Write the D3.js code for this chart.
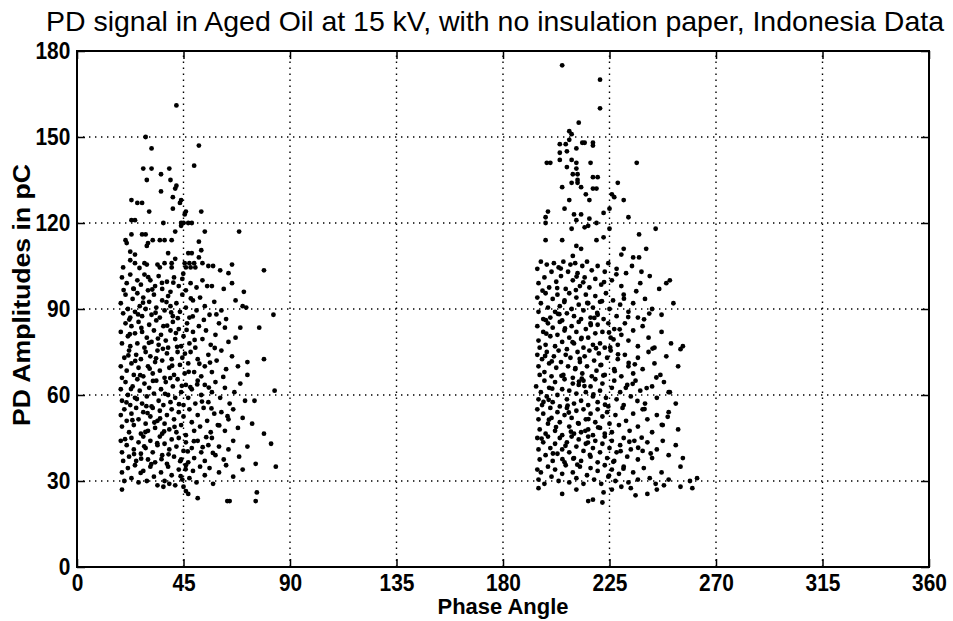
<!DOCTYPE html>
<html>
<head>
<meta charset="utf-8">
<script src="https://cdn.jsdelivr.net/npm/d3@7"></script>
<style>
body{margin:0;background:#fff}
svg{display:block}
.tick text{font-family:Arial,"Liberation Sans",sans-serif;font-weight:bold;font-size:22px;fill:#000}
.label{font-family:Arial,"Liberation Sans",sans-serif;font-weight:bold;font-size:22px}
.ylabel{font-family:Arial,"Liberation Sans",sans-serif;font-weight:bold;font-size:24px}
.title{font-family:Arial,"Liberation Sans",sans-serif;font-size:28px}
</style>
</head>
<body>
<svg id="chart"></svg>
<script>
var chartTitle = "PD signal in Aged Oil at 15 kV, with no insulation paper, Indonesia Data"
var xLabel = "Phase Angle"
var yLabel = "PD Amplitudes in pC"
var xTicks = [0,45,90,135,180,225,270,315,360]
var yTicks = [0,30,60,90,120,150,180]

// positive half cycle cluster, [phase, amplitude]
var posTop = [[42,161],[29,150],[31.5,146],[51.5,147],[28,139],[31.5,139],[39,139],[49.5,140],[35.5,137],[29.5,135],[39.5,135],[42,133],[41.5,132],[35.5,131],[40.5,129],[23,128],[25.5,127],[27.5,127],[44,128],[43.5,127],[40.5,125],[30.5,124],[52.5,124],[46,124],[45.5,123],[23,121],[24.5,121],[36.5,120],[44,120],[45,120],[47,120],[48.5,120],[44,119],[68.5,117],[54,117],[20.5,114],[21,113],[23,116],[27.5,116],[29,116],[32,114],[35,114],[37,114],[40,114],[41.5,117],[29.5,112],[30,113],[51.5,113.5],[38.5,109.5],[52.5,110.5],[22.5,110],[24.5,109],[47,109.5],[48.5,109.5],[19.5,104.5],[22.5,107],[24.5,106],[28.5,106],[29.5,105.5],[34,105.5],[35,104.5],[37,106],[40,104.5],[40,106],[41.5,107.5],[45.5,106],[47.5,106],[49.5,106],[46,104.5],[48,104.5],[50,104.5],[51.5,108],[53,106],[55.5,105],[57.5,105],[60.5,103.5],[64,102.5],[65.5,105.5],[79,103.5],[65.5,99],[55,98]]

var posBody = [[19,101],[21,99],[22.5,102],[24,97],[25.5,100],[27,98.5],[28.5,102],[30,96.5],[31,100],[33,98],[34.5,101.5],[36,97],[38,99.5],[39.5,96],[41,101],[43,98],[44.5,100.5],[46,96.5],[48,99],[50.5,97.5],[53,100],[57,98],[62,97],[70.5,96],
[18.5,92],[19.5,88.5],[20.5,95],[21.5,90],[22.5,87],[23.5,93.5],[24.5,89],[25.5,95.5],[26.5,91],[27.5,87.5],[28,94],[29,90],[30.5,92.5],[31.5,88],[32.5,95],[33.5,90.5],[35,87],[36,93],[37,89.5],[38.5,94.5],[39.5,91],[40.5,87.5],[42,92],[43.5,89],[44.5,95],[46,90.5],[47.5,87],[49,93],[50.5,89.5],[52,94],[54,91],[56,88],[58,92.5],[61,89.5],[63,86.5],[70,91],[71.5,90.5],[83,88],[67,93],
[18.5,82],[19,78],[20.5,85],[21.5,80.5],[22.5,77],[23,84],[24.5,81.5],[25.5,78],[26,85.5],[27.5,82],[28.5,76.5],[29.5,80],[30.5,84.5],[31.5,78.5],[32.5,82.5],[33.5,86],[34.5,77.5],[35.5,81],[36.5,84],[37.5,79],[38.5,76.5],[39.5,82.5],[40.5,85.5],[41.5,79.5],[43,83],[44,77],[45,80.5],[46.5,85],[47.5,78],[49,82],[50,76.5],[51.5,84],[53,79.5],[54.5,82.5],[56.5,77.5],[58.5,81],[60,85],[62.5,83.5],[64,78.5],[67,80],[69,83.5],[77,83.5],
[18.5,70],[19,66],[20,73],[21,68.5],[22,75.5],[23,71],[24,67],[25,74],[26,69.5],[27,72.5],[28,66.5],[29,75],[30,70],[31,73.5],[32,67.5],[33,71.5],[34,75.5],[35,68.5],[36,72],[37,66],[38,74.5],[39,69.5],[40,72.5],[41,67],[42.5,75],[43.5,70.5],[44.5,73],[45.5,67.5],[47,71],[48,75],[49.5,68],[51,72.5],[52.5,66.5],[54,70],[55.5,74],[57,68],[59,72],[61,75.5],[63,69],[65.5,73.5],[68,70],[72,71.5],[72,67],[79,72.5],
[18.5,62],[19,58],[20.5,64.5],[21.5,60],[22.5,56.5],[23.5,63],[24.5,59],[25.5,65.5],[26.5,61.5],[27.5,57],[28.5,64],[29.5,59.5],[30.5,62.5],[31.5,56],[32.5,60.5],[33.5,65],[34.5,58],[35.5,62],[36.5,56.5],[37.5,64.5],[38.5,60],[39.5,57.5],[40.5,63],[41.5,59],[42.5,65.5],[44,61],[45,56.5],[46,63.5],[47,59],[48.5,62],[50,57],[51,65],[52.5,60],[54,63.5],[55.5,57.5],[57,61],[58.5,64.5],[60.5,59],[62.5,62.5],[64.5,57],[66.5,61],[69,64],[71,58],[75,58],[83.5,61.5],
[18.5,53],[19,49],[20,55],[21,51],[22,47],[23,53.5],[24,49.5],[25,55.5],[26,51.5],[27,46.5],[28,54],[29,50],[30,47.5],[31,52.5],[32,55.5],[33,48.5],[34,51],[35,54.5],[36,46.5],[37,50],[38,53],[39,48],[40,55],[41,51.5],[42,47],[43,54],[44,49.5],[45,52.5],[46,46],[47.5,55],[48.5,50.5],[49.5,47.5],[51,53],[52,49],[53.5,55.5],[55,51],[56.5,47],[58,53.5],[59.5,49.5],[61,54],[62.5,47.5],[64,51.5],[66,55],[68,48.5],[70,52],[74,50],[79,46.5],
[18.5,44],[19,40],[19.5,37],[21,42.5],[22,38.5],[23,45],[24,41],[25,37],[26,43.5],[27,39.5],[28,45.5],[29,41.5],[30,37.5],[31,44],[32,40],[33,36.5],[34,42.5],[35,45.5],[36,39],[37,43],[38,36],[39,41],[40,44.5],[41,38.5],[42,42],[43,45],[44,37.5],[45,40.5],[46,43.5],[47,36.5],[48.5,41.5],[49.5,38],[51,44],[52.5,40],[54,37],[55.5,42.5],[57,45],[58.5,39],[60,42],[62,37.5],[64,41],[66,44],[68.5,38.5],[72,42],[82,43],
[19,33],[19,27],[20,30],[21.5,34.5],[23,31],[24.5,35.5],[26,29.5],[26.9,32.8],[28,33.5],[29.5,30],[31,35],[32.5,31.5],[34,28.5],[35.5,33],[37,30],[38.5,35],[40,32],[41.5,28.5],[43,34],[44.5,30.5],[46,35.5],[47.5,31],[49,33.5],[50.5,29.5],[52,35],[54,32],[56,34.5],[57.5,29],[60,33],[63,35.5],[66,31.5],[70,34],[75.5,36],[84,35],[36.5,28],[39,29],[45,28],[46,26.5],[47,25.5],[51,24],[63.5,23],[64.5,23],[76,26],[75.5,23]]

var posFill = [[33.2,88.7],[21.7,73.8],[44.3,63.2],[28.9,47.1],[37.8,92.4],[25.3,58.6],[49.7,79.2],[31.4,35.9],[42.6,86.8],[56.2,71.3],[23.8,97.1],[35.1,51.8],[46.8,40.3],[27.2,83.4],[39.4,65.9],[52.8,57.7],[20.3,44.6],[30.7,69.2],[43.8,31.7],[58.9,88.1],[26.4,104.3],[36.3,76.1],[48.1,93.7],[22.8,62.1],[33.9,43.2],[54.6,45.3],[40.7,99.2],[29.3,56.1],[45.6,74.4],[61.8,66.3],[24.1,39.4],[38.1,84.2],[50.8,63.7],[32.1,64.9],[19.7,96.6],[27.9,92.2],[43.1,56.8],[57.4,39.8],[35.7,37.6],[47.2,68.1],[22.3,81.2],[30.1,101.1],[41.2,48.9],[53.6,86.2],[26.7,66.9],[39.8,88.8],[60.1,49.4],[34.2,79.7],[45.9,34.1],[28.4,42.1],[51.7,70.9],[23.4,51.2],[37.2,60.4],[48.9,87.4],[31.8,96.8],[42.3,76.8],[55.7,62.6],[25.8,88.1],[36.8,47.3],[44.9,102.3],[20.9,57.4],[49.4,43.9],[33.4,72.8],[58.2,76.4],[29.8,53.7],[40.2,70.2],[63.6,52.6],[24.6,71.9],[46.3,82.7],[38.7,39.3],[53.1,41.8],[27.1,37.8],[35.9,99.1],[41.8,81.6],[30.4,78.2],[47.9,62.7],[22.1,86.3],[56.8,55.3],[43.6,36.9],[32.7,50.4]]

// negative half cycle cluster, [phase, amplitude]
var negTop = [[205,175],[221,170],[221,160],[212,155],[208,152],[209,151],[204,147.5],[206.5,147.5],[208,149],[213.5,148],[214.5,148],[218,148],[218,147],[204,144.5],[207,145],[211,146],[204,142],[198.5,141],[200,141],[209,142],[211,141],[207,139.5],[217,141],[236.5,141],[211,139],[209.5,137],[211.5,137],[218,136],[220,136],[209,134],[211.5,135],[211.5,134],[213,132.5],[205,132.5],[218,132],[219.5,132],[228.5,134],[215,130],[226,130],[227,129],[231,128],[208,128],[216.5,128],[206,125],[199,124],[222.5,123.5],[225,125],[210,123],[213,123],[198,122],[198,120],[216.5,121.5],[219.5,120],[233,122],[211,121],[214.5,118.5],[216,119],[209,118],[225,118],[244.5,118],[237.5,116],[222.5,115],[198,114],[205,114],[219.5,114],[211,112],[213,111],[231,111],[230,109],[240.5,111],[235,108],[237.5,108],[209.5,108.5]]

var negBody = [[194.5,104],[195,99],[196,106.5],[197.5,101],[198.5,105.5],[199.5,97.5],[200.5,103],[201.5,106],[202.5,99.5],[203.5,104.5],[204.5,101.5],[205.5,106.5],[206.5,97],[207.5,103],[208.5,105.5],[209.5,100],[210.5,106],[211.5,102.5],[212.5,98],[213.5,105],[214.5,101],[215.5,106.5],[216.5,97.5],[217.5,103.5],[219,100.5],[220,105],[221.5,98.5],[223,103],[224.5,106],[226,100],[228,104],[230,98],[232,102.5],[234.5,105],[238.5,103],[238,99],[242,101.5],[246,97],[250.5,100],
[194.5,94],[195,89],[196,92],[197,86.5],[198,95.5],[199,90.5],[200,87],[201,93.5],[202,89],[203,95],[204,91],[205,86],[206,93],[207,88.5],[208,95.5],[209,90],[210,87.5],[211,94],[212,91.5],[213,86.5],[214,89.5],[215,95],[216,92],[217,87],[218,90.5],[219,94.5],[220,88],[221,92.5],[222.5,86.5],[223.5,95.5],[225,90],[226.5,93],[228,87.5],[229.5,91.5],[231,95],[233,89],[235,92],[237,87],[240,93.5],[243,90],[247,88],[252,92],
[194.5,84],[195,79],[195.5,76.5],[197,82],[198,77.5],[199,85],[200,80.5],[201,83.5],[202,77],[203,81],[204,85.5],[205,78.5],[206,82.5],[207,76],[208,80],[209,84],[210,78],[211,82],[212,85.5],[213,79.5],[214,76.5],[215,83],[216,80],[217,85],[218,77.5],[219,81.5],[220,84.5],[221,78],[222,82],[223,76.5],[224.5,85],[225.5,80],[227,83],[228.5,77.5],[230,81],[231.5,85],[233,79],[235,82.5],[237,77],[239,84],[241.5,80],[244,76.5],[247,82],[251,78],[256,77],
[194.5,74],[195,70],[195.5,67],[196.5,72.5],[197.5,68],[198.5,75],[199.5,71],[200.5,66.5],[201.5,73.5],[202.5,69.5],[203.5,75.5],[204.5,71.5],[205.5,67],[206.5,74],[207.5,70],[208.5,73],[209.5,66],[210.5,69],[211.5,75],[212.5,71.5],[213.5,67.5],[214.5,73.5],[215.5,70],[216.5,75.5],[217.5,66.5],[218.5,72],[219.5,68.5],[220.5,74.5],[221.5,70.5],[223,67],[224,73],[225.5,75.5],[227,69],[228.5,72.5],[230,66.5],[231.5,74],[233,70],[235,67.5],[237,73],[239,69],[241.5,75],[244,71],[246.5,67],[249,73.5],[254,70],
[194,63],[195,58.5],[196,61],[196.5,56.5],[197.5,65],[198.5,59.5],[199.5,62.5],[201,57.5],[202,64.5],[203,60],[204,56],[205,62],[206,65.5],[207,58.5],[208,61.5],[209.5,64],[210,57],[211,60.5],[212,63.5],[213,58],[214,65],[215,61],[216,56.5],[217,63],[218,59.5],[219,65.5],[220,57.5],[221,61.5],[222,64],[223.5,59],[224.5,56],[226,62.5],[227,65],[228,58.5],[229.5,61],[231,56.5],[232.5,63.5],[234,59.5],[236,65],[238,61.5],[240,57],[243,63],[245,59],[248,64.5],[250,61],[253,57],
[194.5,55],[195,51.5],[195.5,48],[197,53.5],[198,46.5],[199,50],[200,55.5],[200.5,52],[202,47.5],[203,54],[204,50.5],[205,46],[206,53],[207,55.5],[208,49],[209,52],[210,46.5],[211,54.5],[212,50],[213,47],[214,55],[215,51.5],[216,48],[217,53.5],[218,46],[219,50.5],[220,55],[221,48.5],[222,52.5],[223,46.5],[224,54],[225,50],[226,47],[227.5,53],[229,49.5],[230.5,55.5],[232,51],[233.5,47.5],[235,53.5],[237,49],[239,55],[241,51.5],[243,47],[245,53],[247.5,49.5],[250,54],[254,48],
[194.5,45],[195,41],[195.5,37.5],[197,43.5],[198,39],[199,45.5],[200,41.5],[201,37],[202,43],[203,39.5],[204,45],[205,41],[206,36.5],[207,43.5],[208,40],[209,45.5],[210,38],[211,42],[212,44.5],[213,37],[214,40.5],[215,43],[216,45.5],[217,38.5],[218,41.5],[219,44],[220,36.5],[221,40],[222,43],[223,45.5],[224,38],[225,41.5],[226,44],[227,37],[228,40],[229.5,42.5],[231,45],[232.5,38.5],[234,41],[235.5,44],[237,37.5],[239,40.5],[241,43.5],[243,38],[245,41],[247.5,44],[250,39],[253,42.5],[256,38],
[194.5,34],[195,30.5],[196,33],[197.5,29],[199,35],[200.5,31.5],[202,34],[203.5,30],[205,32.5],[206.5,35.5],[208,29.5],[209.5,33],[211,31],[212.5,35],[214,29],[215.5,32],[217,34.5],[218.5,30.5],[220,33.5],[221.5,29],[223,35.5],[224.5,31.5],[226,34],[227.5,30],[229,32.5],[231,35],[233,29.5],[235,33],[237,30.5],[239.5,34.5],[242,31],[244.5,29],[247,33],[250,30.5],[255,35],[259,30],
[195,27.5],[205,25.5],[211,27],[216,23],[218,23.5],[222,22.5],[222.5,26],[226,27],[230,28],[234,27.5],[236,25],[241,25.5],[245,27],[248,28.5],[255,28],[260,27.5],[262,31],[255,76],[250.5,61],[249,99]]

var negFill = [[203.2,88.3],[197.8,73.6],[214.4,63.1],[208.7,47.2],[221.8,92.7],[199.3,58.3],[226.7,79.4],[211.4,35.7],[218.6,86.9],[233.1,71.2],[202.9,97.3],[216.1,51.6],[229.7,40.4],[206.2,83.2],[213.3,65.7],[236.8,57.9],[196.3,44.8],[210.6,69.4],[224.8,31.9],[241.8,88.4],[204.4,104.1],[219.3,76.3],[231.1,93.6],[200.8,62.2],[215.9,43.4],[238.6,45.1],[222.7,99.4],[207.3,56.3],[228.6,74.2],[244.8,66.1],[201.1,39.6],[217.1,84.4],[234.8,63.9],[212.1,64.7],[196.7,96.4],[205.9,92.4],[223.1,56.6],[242.4,39.6],[209.7,37.8],[227.2,68.3],[198.3,81.4],[211.1,101.3],[220.2,48.7],[239.6,86.4],[204.7,66.7],[219.8,88.6],[247.1,49.6],[213.2,79.9],[230.9,34.3],[206.4,42.3],[235.7,70.7],[199.4,51.4],[218.2,60.2],[232.9,87.2],[210.8,96.6],[225.3,76.6],[240.7,62.4],[203.8,88.2],[214.8,47.5],[227.9,102.1],[197.1,57.6],[233.4,43.7],[212.4,72.6],[243.2,76.2],[207.8,53.9],[221.2,70.4],[249.6,52.4],[200.6,71.7],[229.3,82.9],[216.7,39.1],[237.1,41.6],[205.1,37.6],[213.9,99.3],[224.8,81.8],[209.4,78.4],[231.9,62.5],[198.1,86.1],[239.8,55.1],[226.6,36.7],[211.7,50.2],[215.6,92.1],[202.4,48.8],[222.4,66.8],[236.3,96.2]]

var screen = {width:953,height:621}
var margins = {left:77,right:24,top:51,bottom:54}
var graph = {
    width:screen.width-margins.left-margins.right,
    height:screen.height-margins.top-margins.bottom
}

var svg = d3.select("#chart")
    .attr("width",screen.width)
    .attr("height",screen.height)

var xScale = d3.scaleLinear().domain([0,360]).range([0,graph.width])
var yScale = d3.scaleLinear().domain([0,180]).range([graph.height,0])

var plot = svg.append("g")
    .attr("transform","translate("+margins.left+","+margins.top+")")

// dotted grid
var grid = plot.append("g")
    .attr("stroke","#000")
    .attr("stroke-width",1.4)
    .attr("stroke-dasharray","1.4,4.6")
grid.selectAll(".gx")
    .data(xTicks.slice(1,-1))
    .enter().append("line")
    .attr("x1",function(d){return xScale(d)})
    .attr("x2",function(d){return xScale(d)})
    .attr("y1",yScale(0))
    .attr("y2",yScale(180))
grid.selectAll(".gy")
    .data(yTicks.slice(1,-1))
    .enter().append("line")
    .attr("y1",function(d){return yScale(d)})
    .attr("y2",function(d){return yScale(d)})
    .attr("x1",xScale(0))
    .attr("x2",xScale(360))

// the points
var allPoints = posTop.concat(posBody,posFill,negTop,negBody,negFill)
plot.append("g").selectAll("circle")
    .data(allPoints)
    .enter().append("circle")
    .attr("cx",function(d){return xScale(d[0])})
    .attr("cy",function(d){return yScale(d[1])})
    .attr("r",2.4)
    .attr("fill","#000")

// axes, ticks point inwards
var tick = 8
var xAxis = plot.append("g")
    .attr("transform","translate(0,"+graph.height+")")
    .call(d3.axisBottom(xScale).tickValues(xTicks).tickSizeInner(-tick).tickSizeOuter(0).tickPadding(6))
var yAxis = plot.append("g")
    .call(d3.axisLeft(yScale).tickValues(yTicks).tickSizeInner(-tick).tickSizeOuter(0).tickPadding(7))
plot.append("g")
    .call(d3.axisTop(xScale).tickValues(xTicks).tickSizeInner(-tick).tickSizeOuter(0).tickFormat(""))
plot.append("g")
    .attr("transform","translate("+graph.width+",0)")
    .call(d3.axisRight(yScale).tickValues(yTicks).tickSizeInner(-tick).tickSizeOuter(0).tickFormat(""))
plot.selectAll(".domain").remove()
plot.selectAll(".tick line").attr("stroke","#000").attr("stroke-width",1.5)
// scanned original has tall narrow digits
xAxis.selectAll("text").attr("transform","scale(0.95,1.12)")
yAxis.selectAll("text").attr("transform","scale(0.95,1.12)")

plot.append("rect")
    .attr("width",graph.width)
    .attr("height",graph.height)
    .attr("fill","none")
    .attr("stroke","#000")
    .attr("stroke-width",2)

// labels
svg.append("text")
    .classed("title",true)
    .attr("text-anchor","middle")
    .attr("x",495)
    .attr("y",31)
    .attr("textLength",898)
    .attr("lengthAdjust","spacingAndGlyphs")
    .text(chartTitle)

svg.append("text")
    .classed("label",true)
    .attr("text-anchor","middle")
    .attr("x",503)
    .attr("y",614)
    .attr("textLength",131)
    .attr("lengthAdjust","spacingAndGlyphs")
    .text(xLabel)

svg.append("g")
    .attr("transform","translate(30,295)")
    .append("text")
    .classed("ylabel",true)
    .attr("text-anchor","middle")
    .attr("transform","rotate(-90)")
    .attr("textLength",262)
    .attr("lengthAdjust","spacingAndGlyphs")
    .text(yLabel)
</script>
</body>
</html>
